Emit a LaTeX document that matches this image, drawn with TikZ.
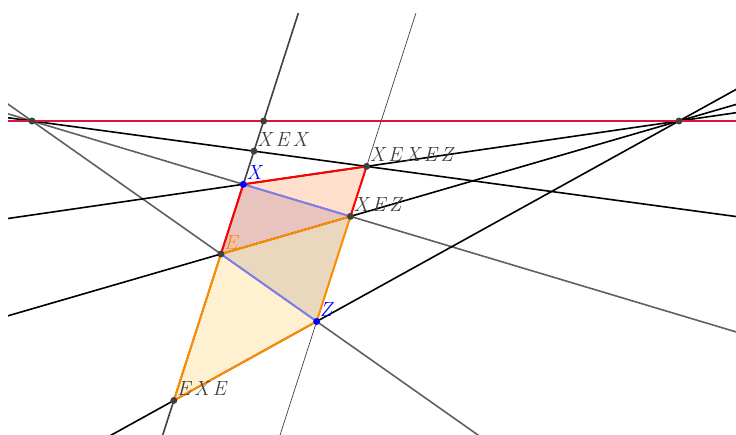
\documentclass[tikz,border=0pt]{standalone}
\usepackage{fontspec}
\usetikzlibrary{calc}
\definecolor{hz}{RGB}{220,20,60}
\definecolor{dgray}{RGB}{64,64,64}
\definecolor{mgray}{RGB}{96,96,96}
\definecolor{lav}{RGB}{125,125,240}
\definecolor{myred}{RGB}{255,0,0}
\definecolor{myorange}{RGB}{255,140,0}
\definecolor{myblue}{RGB}{0,0,255}
\definecolor{fA}{RGB}{255,224,205}
\definecolor{fB}{RGB}{233,196,190}
\definecolor{fC}{RGB}{233,215,190}
\definecolor{fD}{RGB}{255,240,210}
\newcommand{\gk}{\kern3.5pt}
\begin{document}
\begin{tikzpicture}[x=1pt,y=-1pt,
  blackline/.style={black,line width=1.6pt},
  grayline/.style={mgray,line width=1.6pt},
  vline/.style={dgray,line width=1.6pt},
  thinline/.style={dgray,line width=0.7pt},
  rededge/.style={myred,line width=2pt,line cap=round},
  orangeedge/.style={myorange,line width=2pt,line cap=round},
  lavedge/.style={lav,line width=1.8pt},
  gdot/.style={fill=dgray},
  bdot/.style={fill=myblue},
  lbl/.style={anchor=base west,xshift=3pt,yshift=5pt,inner sep=0pt,font=\fontsize{20.5}{24}\selectfont\itshape}]
\useasboundingbox (0,0) rectangle (736,434);
\coordinate (L) at (32,121);
\coordinate (R) at (679,121);
\coordinate (X) at (243.3,184.3);
\coordinate (E) at (220.9,254);
\coordinate (XEZ) at (intersection of L--X and R--E);
\coordinate (XEZt) at ($(XEZ)+(32.2,-100)$);
\coordinate (XEXEZ) at (intersection of R--X and XEZ--XEZt);
\coordinate (Z) at (intersection of L--E and XEZ--XEZt);
\coordinate (XEX) at (intersection of L--XEXEZ and X--E);
\coordinate (EXE) at (intersection of R--Z and X--E);
\coordinate (V) at (intersection of L--R and X--E);
% fills
\fill[fA] (X) -- (XEXEZ) -- (XEZ) -- cycle;
\fill[fB] (X) -- (XEZ) -- (E) -- cycle;
\fill[fC] (E) -- (XEZ) -- (Z) -- cycle;
\fill[fD] (E) -- (Z) -- (EXE) -- cycle;
% lines
\begin{scope}
\clip (8,13) rectangle (736,434);
\draw[grayline] ($(L)!-3!(X)$) -- ($(L)!6!(X)$);
\draw[grayline] ($(L)!-3!(E)$) -- ($(L)!6!(E)$);
\draw[blackline] ($(L)!-3!(XEXEZ)$) -- ($(L)!6!(XEXEZ)$);
\draw[blackline] ($(R)!-3!(X)$) -- ($(R)!4!(X)$);
\draw[blackline] ($(R)!-3!(E)$) -- ($(R)!4!(E)$);
\draw[blackline] ($(R)!-3!(Z)$) -- ($(R)!4!(Z)$);
\draw[vline] ($(X)!-6!(E)$) -- ($(X)!6!(E)$);
\draw[thinline] ($(XEZ)!-6!(XEZt)$) -- ($(XEZ)!6!(XEZt)$);
\draw[hz,line width=1.8pt] ($(L)!-3!(R)$) -- ($(L)!3!(R)$);
\end{scope}
% edges
\draw[lavedge] (X) -- (XEZ);
\draw[lavedge] (E) -- (Z);
\draw[rededge] (E) -- (X) -- (XEXEZ) -- (XEZ);
\draw[orangeedge] (E) -- (XEZ) -- (Z) -- (EXE) -- cycle;
% dots
\foreach \p in {L,R,V,XEX,XEXEZ,XEZ,E,EXE} \fill[gdot] (\p) circle[radius=3.5pt];
\foreach \p in {X,Z} \fill[bdot] (\p) circle[radius=3.5pt];
% labels
\node[lbl,text=dgray] (lXEX) at (XEX) {X\gk E\gk X};
\node[lbl,text=dgray] (lXEXEZ) at (XEXEZ) {X\gk E\gk X\gk E\gk Z};
\node[lbl,text=dgray] (lXEZ) at (XEZ) {X\gk E\gk Z};
\node[lbl,text=dgray] (lEXE) at (EXE) {E\gk X\gk E};
\node[lbl,text=myblue] (lX) at (X) {X};
\node[lbl,text=myblue] (lZ) at (Z) {Z};
\node[lbl,text=myorange] (lE) at (E) {E};
\end{tikzpicture}
\end{document}
